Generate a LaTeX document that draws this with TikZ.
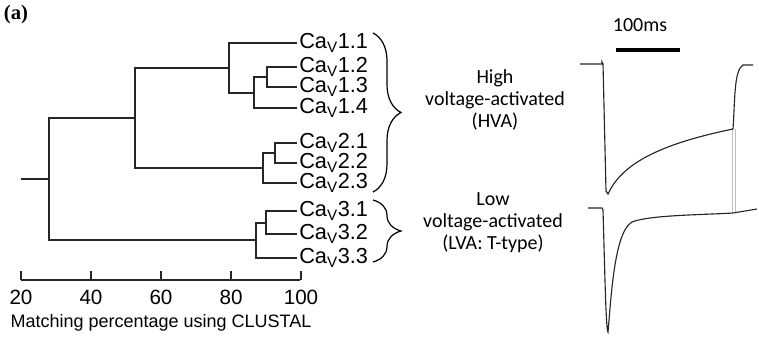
\documentclass[tikz,border=0pt]{standalone}
\usepackage{fontspec}
\setmainfont{Liberation Sans}
\newfontfamily\calibfont{Carlito}
\newfontfamily\panelfont{Liberation Serif}
\usetikzlibrary{decorations.pathreplacing,calc}

\begin{document}
\begin{tikzpicture}[
  x=0.75pt, y=-0.75pt,
  tree/.style={line width=1pt, black!85},
  leaf/.style={anchor=west, inner sep=1.5pt, font=\fontsize{16.3}{17}\selectfont},
  ticklbl/.style={inner sep=0pt, font=\fontsize{15.5}{17}\selectfont},
  grp/.style={align=center, font=\calibfont\fontsize{15}{16.5}\selectfont},
  brc/.style={decorate, decoration={brace, amplitude=21pt}, line width=0.9pt},
  trace/.style={line width=0.85pt, black!85},
  cut/.style={line width=0.5pt, black!25}
]
  \useasboundingbox (0,0) rectangle (759,342);

  % panel label
  \node[font=\panelfont\bfseries\fontsize{15.5}{17}\selectfont] (panel) at (16,15) {(a)};

  % leaves
  \node[leaf] (l11) at (297,43)  {Ca\textsubscript{V}1.1};
  \node[leaf] (l12) at (297,67)  {Ca\textsubscript{V}1.2};
  \node[leaf] (l13) at (297,87)  {Ca\textsubscript{V}1.3};
  \node[leaf] (l14) at (297,108) {Ca\textsubscript{V}1.4};
  \node[leaf] (l21) at (297,143) {Ca\textsubscript{V}2.1};
  \node[leaf] (l22) at (297,163) {Ca\textsubscript{V}2.2};
  \node[leaf] (l23) at (297,183) {Ca\textsubscript{V}2.3};
  \node[leaf] (l31) at (297,211) {Ca\textsubscript{V}3.1};
  \node[leaf] (l32) at (297,234) {Ca\textsubscript{V}3.2};
  \node[leaf] (l33) at (297,258) {Ca\textsubscript{V}3.3};

  % junctions
  \coordinate (j12)  at (267,77);
  \coordinate (j124) at (254,93);
  \coordinate (j11)  at (229,68);
  \coordinate (j21)  at (275,153);
  \coordinate (j23)  at (263,168);
  \coordinate (jA)   at (135,118);
  \coordinate (j31)  at (266,223);
  \coordinate (j33)  at (256,240);
  \coordinate (root) at (49,179);
  \coordinate (stub) at (21,179);

  % tree
  \draw[tree] (l12.west) -| (j12) |- (l13.west);
  \draw[tree] (j12) -| (j124) |- (l14.west);
  \draw[tree] (l11.west) -| (j11) |- (j124);
  \draw[tree] (l21.west) -| (j21) |- (l22.west);
  \draw[tree] (j21) -| (j23) |- (l23.west);
  \draw[tree] (j11) -| (jA) |- (j23);
  \draw[tree] (l31.west) -| (j31) |- (l32.west);
  \draw[tree] (j31) -| (j33) |- (l33.west);
  \draw[tree] (jA) -| (root) |- (j33);
  \draw[tree] (stub) -- (root);

  % scale
  \draw[tree] (21,280) -- (300,280);
  \foreach \v [count=\i] in {20,40,60,80,100} {
    \pgfmathsetmacro{\tx}{21+3.5*(\v-20)}
    \draw[tree] (\tx,271) -- (\tx,280);
    \node[ticklbl] (t\i) at (\tx,297) {\v};
  }
  \node[font=\fontsize{13.5}{15}\selectfont] (xlab) at (161,323) {Matching percentage using CLUSTAL};

  % braces
  \coordinate (b1t) at (373,33);
  \coordinate (b1b) at (373,192);
  \coordinate (b2t) at (373,200);
  \coordinate (b2b) at (373,262);
  \draw[brc] (b1t) -- (b1b);
  \draw[brc] (b2t) -- (b2b);

  \node[grp] (hva) at (495,100) {High\\voltage-activated\\(HVA)};
  \node[grp] (lva) at (493,223) {Low\\voltage-activated\\(LVA: T-type)};

  % scale bar
  \node[font=\calibfont\fontsize{15}{17}\selectfont] (ms) at (640,25) {100ms};
  \draw[line width=3pt] (616,50) -- (680,50);

  % currents
  \draw[cut] (732,129) -- (732,213);
  \draw[cut] (735,129) -- (735,213);
  \draw[trace] (580,64) -- (602,64) -- (602,62) -- (603,64) -- (606,191) -- (608,194)
    .. controls (620,168) and (650,146) .. (733,129)
    .. controls (735,100) and (734,70) .. (743,65) -- (753,65);
  \draw[trace] (588,208) -- (602,208) -- (603,210)
    .. controls (605,280) and (606,330) .. (608,332)
    .. controls (611,300) and (614,232) .. (632,222)
    .. controls (650,215) and (700,215) .. (733,213)
    -- (757,209);
\end{tikzpicture}
\end{document}
